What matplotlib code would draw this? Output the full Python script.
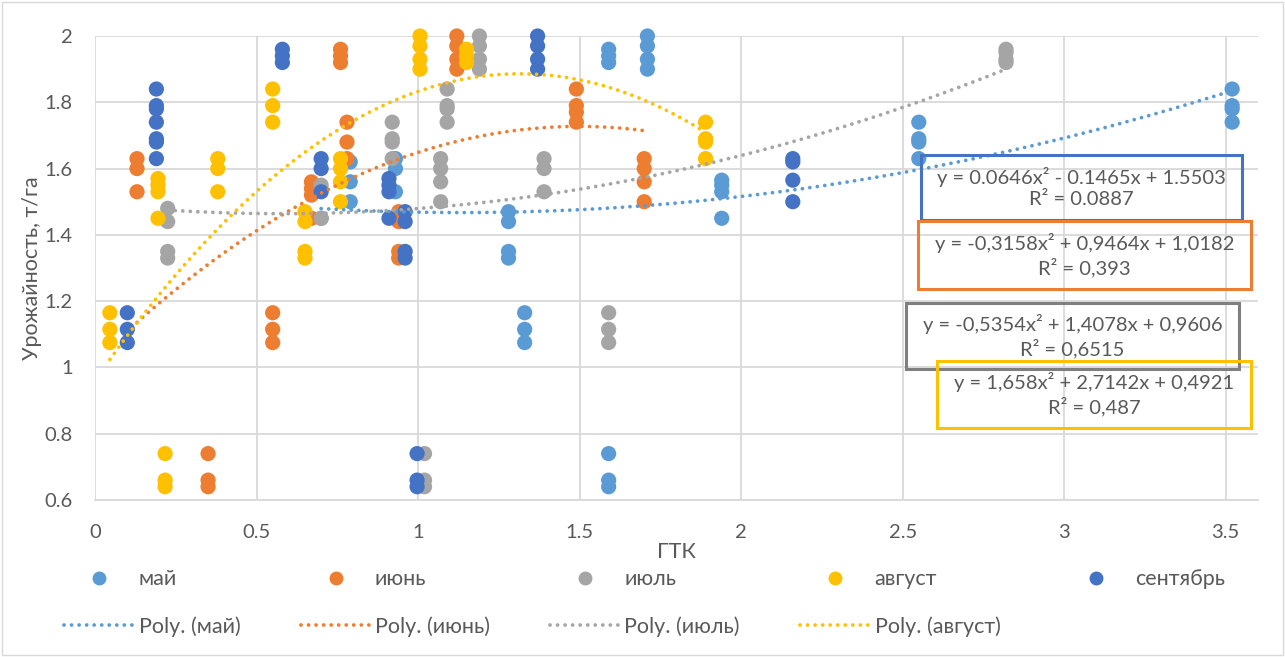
import numpy as np
import matplotlib
matplotlib.use('Agg')
import matplotlib.pyplot as plt
from matplotlib.lines import Line2D
from matplotlib.patches import Rectangle

plt.rcParams['font.family'] = ['Lato', 'Noto Sans', 'DejaVu Sans']

# ---- data ----
may_x = [0.70, 0.79, 0.79, 0.79, 0.93, 0.93, 0.93, 1.28, 1.28, 1.28, 1.28,
         1.33, 1.33, 1.33, 1.59, 1.59, 1.59, 1.59, 1.59, 1.59, 1.71, 1.71, 1.71, 1.71,
         1.94, 1.94, 1.94, 1.94, 2.55, 2.55, 2.55, 2.55, 3.52, 3.52, 3.52, 3.52]
may_y = [1.45, 1.62, 1.56, 1.50, 1.63, 1.60, 1.53, 1.47, 1.44, 1.35, 1.33,
         1.165, 1.115, 1.075, 1.96, 1.94, 1.92, 0.74, 0.66, 0.64, 2.0, 1.97, 1.93, 1.90,
         1.565, 1.55, 1.53, 1.45, 1.74, 1.69, 1.68, 1.63, 1.84, 1.79, 1.78, 1.74]

jun_x = [0.13, 0.13, 0.13, 0.35, 0.35, 0.35, 0.55, 0.55, 0.55, 0.67, 0.67, 0.67, 0.67,
         0.76, 0.76, 0.76, 0.78, 0.78, 0.78, 0.94, 0.94, 0.94, 0.94, 1.12, 1.12, 1.12, 1.12,
         1.49, 1.49, 1.49, 1.49, 1.70, 1.70, 1.70, 1.70]
jun_y = [1.63, 1.60, 1.53, 0.74, 0.66, 0.64, 1.165, 1.115, 1.075, 1.56, 1.54, 1.52, 1.45,
         1.96, 1.94, 1.92, 1.74, 1.68, 1.63, 1.47, 1.44, 1.35, 1.33, 2.0, 1.97, 1.93, 1.90,
         1.84, 1.79, 1.77, 1.74, 1.63, 1.60, 1.56, 1.50]

jul_x = [0.225, 0.225, 0.225, 0.225, 0.70, 0.70, 0.92, 0.92, 0.92, 0.92, 1.02, 1.02, 1.02,
         1.07, 1.07, 1.07, 1.07, 1.09, 1.09, 1.09, 1.09, 1.19, 1.19, 1.19, 1.19,
         1.39, 1.39, 1.39, 1.59, 1.59, 1.59, 2.82, 2.82, 2.82, 2.82]
jul_y = [1.48, 1.44, 1.35, 1.33, 1.55, 1.45, 1.74, 1.69, 1.68, 1.63, 0.74, 0.66, 0.64,
         1.63, 1.60, 1.56, 1.50, 1.84, 1.79, 1.78, 1.74, 2.0, 1.97, 1.93, 1.90,
         1.63, 1.60, 1.53, 1.165, 1.115, 1.075, 1.96, 1.95, 1.93, 1.92]

aug_x = [0.046, 0.046, 0.046, 0.195, 0.195, 0.195, 0.195, 0.217, 0.217, 0.217,
         0.38, 0.38, 0.38, 0.55, 0.55, 0.55, 0.65, 0.65, 0.65, 0.65, 0.76, 0.76, 0.76, 0.76,
         1.006, 1.006, 1.006, 1.006, 1.15, 1.15, 1.15, 1.89, 1.89, 1.89, 1.89]
aug_y = [1.165, 1.115, 1.075, 1.57, 1.55, 1.53, 1.45, 0.74, 0.66, 0.64,
         1.63, 1.60, 1.53, 1.84, 1.79, 1.74, 1.47, 1.44, 1.35, 1.33, 1.63, 1.60, 1.56, 1.50,
         2.0, 1.97, 1.93, 1.90, 1.96, 1.94, 1.92, 1.74, 1.69, 1.68, 1.63]

sep_x = [0.10, 0.10, 0.10, 0.19, 0.19, 0.19, 0.19, 0.19, 0.19, 0.19, 0.58, 0.58, 0.58,
         0.70, 0.70, 0.70, 0.91, 0.91, 0.91, 0.91, 0.96, 0.96, 0.96, 0.96, 0.997, 0.997, 0.997,
         1.37, 1.37, 1.37, 1.37, 2.16, 2.16, 2.16, 2.16]
sep_y = [1.165, 1.115, 1.075, 1.84, 1.79, 1.78, 1.74, 1.69, 1.68, 1.63, 1.96, 1.94, 1.92,
         1.63, 1.60, 1.53, 1.57, 1.55, 1.53, 1.45, 1.47, 1.44, 1.35, 1.33, 0.74, 0.66, 0.64,
         2.0, 1.97, 1.93, 1.90, 1.63, 1.62, 1.565, 1.50]

# trend line coefficients (x^2, x, 1) as drawn
may_fit = [0.0646, -0.1465, 1.5503]
jun_fit = [-0.3158, 0.9464, 1.0182]
jul_fit = [0.0867, -0.1001, 1.4928]
aug_fit = [-0.5354, 1.4078, 0.9606]

names = ['май', 'июнь', 'июль', 'август', 'сентябрь']
colors = ['#5B9BD5', '#ED7D31', '#A5A5A5', '#FFC000', '#4472C4']
eq_texts = ['y = 0.0646x² - 0.1465x + 1.5503\nR² = 0.0887',
            'y = -0,3158x² + 0,9464x + 1,0182\nR² = 0,393',
            'y = -0,5354x² + 1,4078x + 0,9606\nR² = 0,6515',
            'y = 1,658x² + 2,7142x + 0,4921\nR² = 0,487']
x_ticks = [0, 0.5, 1, 1.5, 2, 2.5, 3, 3.5]
x_labels = ['0', '0.5', '1', '1.5', '2', '2.5', '3', '3.5']
y_ticks = [0.6, 0.8, 1.0, 1.2, 1.4, 1.6, 1.8, 2.0]
y_labels = ['0.6', '0.8', '1', '1.2', '1.4', '1.6', '1.8', '2']

W, H = 1285, 657
fx = lambda px: px / W
fy = lambda py: 1 - py / H
grey = '#595959'

fig = plt.figure(figsize=(W / 100, H / 100), dpi=100)
ax = fig.add_axes([fx(95), fy(500), fx(1258) - fx(95), fy(36) - fy(500)])

xs = [may_x, jun_x, jul_x, aug_x, sep_x]
ys = [may_y, jun_y, jul_y, aug_y, sep_y]
for x, y, c in zip(xs, ys, colors):
    ax.scatter(x, y, s=120, color=c, edgecolors='none', zorder=3, clip_on=False)

dots = (0, (0.01, 2.0))
fits = [may_fit, jun_fit, jul_fit, aug_fit]
for x, p, c in zip(xs[:4], fits, colors[:4]):
    xx = np.linspace(min(x), max(x), 200)
    ax.plot(xx, np.polyval(p, xx), color=c, lw=2.7, linestyle=dots,
            dash_capstyle='round', zorder=4)

ax.set_xlim(0, 3.6)
ax.set_ylim(0.6, 2.0)
ax.set_xticks(x_ticks)
ax.set_xticklabels(x_labels)
ax.set_yticks(y_ticks)
ax.set_yticklabels(y_labels)
ax.grid(True, color='#D9D9D9', lw=1.3)
ax.set_axisbelow(True)
for s in ['top', 'right', 'left']:
    ax.spines[s].set_visible(False)
ax.spines['bottom'].set_color('#D9D9D9')
ax.spines['bottom'].set_linewidth(1.3)
ax.tick_params(length=0, labelsize=14.5, labelcolor=grey)
ax.tick_params(axis='x', pad=17)
ax.tick_params(axis='y', pad=16)
ax.set_xlabel('ГТК', fontsize=15.5, color=grey, labelpad=1)
ax.set_ylabel('Урожайность, т/га', fontsize=15.5, color=grey, labelpad=2)

# equation boxes
boxes = [(921, 155, 1242, 220, '#4472C4'), (918, 221, 1251, 289, '#ED7D31'),
         (906, 303, 1239, 369, '#7F7F7F'), (937, 361, 1251, 428, '#FFC000')]
for (x0, y0, x1, y1, c), t in zip(boxes, eq_texts):
    fig.add_artist(Rectangle((fx(x0), fy(y1)), fx(x1) - fx(x0), fy(y0) - fy(y1),
                             transform=fig.transFigure, fill=False, edgecolor=c, lw=2.2, zorder=5))
    fig.text(fx((x0 + x1) / 2), fy((y0 + y1) / 2), t, ha='center', va='center',
             multialignment='center', fontsize=14.5, color=grey, linespacing=1.3, zorder=6)

# legend: row 1 markers, row 2 trendlines
handles, labels = [], []
for i, (n, c) in enumerate(zip(names, colors)):
    handles.append(Line2D([], [], marker='o', ls='none', color=c, markersize=9))
    labels.append(n)
    if i < 4:
        handles.append(Line2D([], [], color=c, lw=2.7, linestyle=dots, dash_capstyle='round'))
        labels.append('Poly. (' + n + ')')
fig.legend(handles, labels, ncol=5, loc='upper left', bbox_to_anchor=(fx(45), fy(550)),
           frameon=False, fontsize=15.5, labelcolor=grey, handlelength=3.25,
           handletextpad=0.2, columnspacing=2.8, labelspacing=1.25, numpoints=1)

fig.add_artist(Rectangle((fx(2), fy(655)), fx(1281), fy(2) - fy(655), transform=fig.transFigure,
                         fill=False, edgecolor='#D9D9D9', lw=1))

fig.savefig('out.png', dpi=100)
